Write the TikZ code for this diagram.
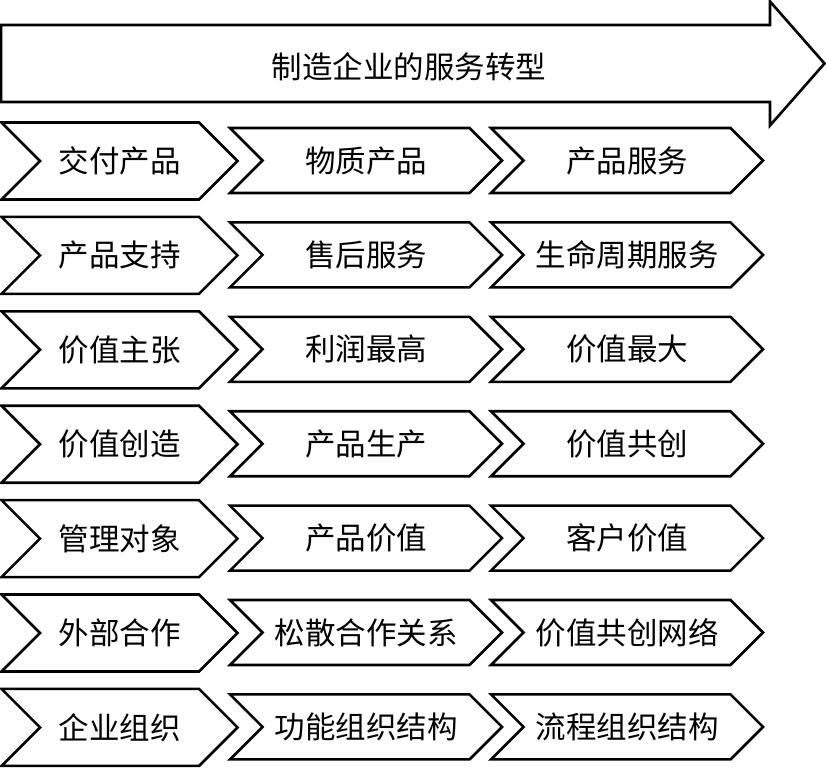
\documentclass[tikz,border=0pt]{standalone}
\usepackage{fontspec}
\newfontfamily\cjk{Noto Sans CJK SC}
\usepackage{tikz}
\usetikzlibrary{shapes.symbols, positioning}

\begin{document}
\begin{tikzpicture}[
    x=1pt, y=-1pt,
    lbl/.style={font=\cjk\fontsize{30.5}{36}\selectfont},
    chev/.style={lbl, draw, line width=2.6pt, shape=signal, signal to=east,
        signal from=west, signal pointer angle=90, inner sep=0pt,
        minimum height=65pt, minimum width=272pt},
    firstchev/.style={chev, minimum height=77pt, minimum width=236pt},
    bigarrow/.style={draw, line width=2.6pt, line join=miter}
]
\useasboundingbox (0,0) rectangle (826,768);

% Main transformation arrow
\draw[bigarrow] (1,25) -- (770,25) -- (770,1.5) -- (824.5,63.5) -- (770,125.5)
    -- (770,102) -- (1,102) -- cycle;
\node[lbl] (title) at (409,67) {制造企业的服务转型};

% Rows of chevrons
\foreach \a/\b/\c [count=\i] in {
    交付产品/物质产品/产品服务,
    产品支持/售后服务/生命周期服务,
    价值主张/利润最高/价值最大,
    价值创造/产品生产/价值共创,
    管理对象/产品价值/客户价值,
    外部合作/松散合作关系/价值共创网络,
    企业组织/功能组织结构/流程组织结构} {
    \node[firstchev] (a\i) at (119.5,{161+94.4*(\i-1)}) {\a};
    \node[chev] (b\i) at (366,{160.5+94.4*(\i-1)}) {\b};
    \node[chev] (c\i) at (627,{160.5+94.4*(\i-1)}) {\c};
}

\end{tikzpicture}
\end{document}
